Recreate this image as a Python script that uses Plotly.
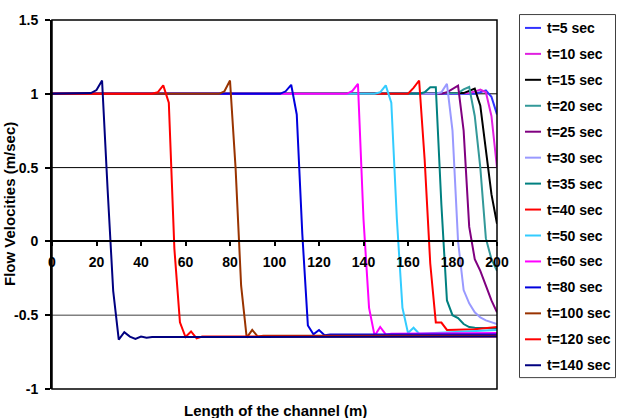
import plotly.graph_objects as go

# ---------------- data ----------------
series_names = ["t=5 sec", "t=10 sec", "t=15 sec", "t=20 sec", "t=25 sec", "t=30 sec",
                "t=35 sec", "t=40 sec", "t=50 sec", "t=60 sec", "t=80 sec",
                "t=100 sec", "t=120 sec", "t=140 sec"]

x_t5 = [0, 190, 192.5, 195, 197.5, 200]
v_t5 = [1.0, 1.0, 1.01, 1.023, 0.98, 0.86]

x_t10 = [0, 185, 187.5, 190, 192.5, 195, 197.5, 200]
v_t10 = [1.0, 1.0, 1.005, 1.015, 1.028, 1.01, 0.85, 0.5]

x_t15 = [0, 182.5, 185, 187.5, 190, 192.5, 195, 197.5, 200]
v_t15 = [1.0, 1.0, 1.005, 1.02, 1.035, 0.92, 0.62, 0.32, 0.12]

x_t20 = [0, 180, 182.5, 185, 187.5, 190, 192.5, 195, 197.5, 200]
v_t20 = [1.0, 1.0, 1.005, 1.03, 1.046, 0.85, 0.5, 0.02, -0.12, -0.2]

x_t25 = [0, 175, 177.5, 180, 182.5, 185, 187.5, 190, 192.5, 195, 197.5, 200]
v_t25 = [1.0, 1.0, 1.01, 1.03, 1.055, 0.75, 0.1, -0.12, -0.2, -0.3, -0.4, -0.48]

x_t30 = [0, 172.5, 175, 177.5, 180, 182.5, 185, 187.5, 190, 192.5, 195, 197.5, 200]
v_t30 = [1.0, 1.0, 1.01, 1.068, 0.75, 0.0, -0.33, -0.42, -0.48, -0.515, -0.535, -0.55, -0.56]

x_t35 = [0, 165, 167.5, 170, 172.5, 175, 177.5, 180, 182.5, 185, 187.5, 190, 200]
v_t35 = [1.0, 1.0, 1.01, 1.045, 1.045, 0.25, -0.4, -0.5, -0.52, -0.56, -0.58, -0.585, -0.59]

x_t40 = [0, 160, 162.5, 165, 167.5, 170, 172.5, 175, 177.5, 180, 190, 200]
v_t40 = [1.0, 1.0, 1.04, 1.09, 0.55, -0.15, -0.55, -0.55, -0.6, -0.6, -0.595, -0.58]

x_t50 = [0, 145, 147.5, 150, 152.5, 155, 157.5, 160, 162.5, 165, 200]
v_t50 = [1.0, 1.0, 1.01, 1.057, 0.94, 0.15, -0.45, -0.62, -0.585, -0.625, -0.6]

x_t60 = [0, 132.5, 135, 137.5, 140, 142.5, 145, 147.5, 150, 152.5, 200]
v_t60 = [1.0, 1.0, 1.02, 1.068, 0.15, -0.45, -0.64, -0.58, -0.63, -0.625, -0.62]

x_t80 = [0, 102.5, 105, 107.5, 110, 112.5, 115, 117.5, 120, 122.5, 125, 200]
v_t80 = [1.0, 1.0, 1.017, 1.061, 0.86, 0.05, -0.57, -0.63, -0.6, -0.635, -0.63, -0.63]

x_t100 = [0, 75, 77.5, 80, 82.5, 85, 87.5, 90, 92.5, 95, 200]
v_t100 = [1.0, 1.0, 1.017, 1.09, 0.5, -0.3, -0.652, -0.6, -0.645, -0.64, -0.64]

x_t120 = [0, 45, 47.5, 50, 52.5, 55, 57.5, 60, 62.5, 65, 67.5, 200]
v_t120 = [1.0, 1.0, 1.01, 1.057, 0.94, -0.05, -0.548, -0.648, -0.61, -0.657, -0.645, -0.645]

x_t140 = [0, 15, 17.5, 20, 22.5, 25, 27.5, 30, 32.5, 35, 37.5, 40, 42.5, 45, 200]
v_t140 = [1.0, 1.0, 1.005, 1.025, 1.09, 0.35, -0.335, -0.665, -0.615, -0.645, -0.66, -0.645, -0.652, -0.648, -0.645]

y_tick_vals = [-1, -0.5, 0, 0.5, 1, 1.5]
y_tick_text = ["-1", "-0.5", "0", "0.5", "1", "1.5"]
x_tick_vals = [0, 20, 40, 60, 80, 100, 120, 140, 160, 180, 200]

# ---------------- styles ----------------
colors = ["#3333FF", "#E020E0", "#000000", "#339999", "#800080", "#9999FF",
          "#008080", "#FF0000", "#33CCFF", "#FF00FF", "#0000DD",
          "#993300", "#FF0000", "#000080"]

xs = [x_t5, x_t10, x_t15, x_t20, x_t25, x_t30, x_t35, x_t40, x_t50, x_t60, x_t80, x_t100, x_t120, x_t140]
vs = [v_t5, v_t10, v_t15, v_t20, v_t25, v_t30, v_t35, v_t40, v_t50, v_t60, v_t80, v_t100, v_t120, v_t140]

W, H = 617, 418
L, R, T, B = 52, 120, 16, 29
PW, PH = W - L - R, H - T - B


def px(xp):
    return (xp - L) / PW


def py(yp):
    return (H - B - yp) / PH


FONT = "Liberation Sans, Arial, sans-serif"

fig = go.Figure()
for name, xv, yv, c in zip(series_names, xs, vs, colors):
    fig.add_trace(go.Scatter(x=xv, y=yv, mode="lines", name=name,
                             line=dict(color=c, width=2), showlegend=False))

shapes = []
# gridlines
shapes.append(dict(type="line", xref="x domain", yref="y", x0=0, x1=1, y0=1, y1=1,
                   line=dict(color="black", width=1), layer="below"))
shapes.append(dict(type="line", xref="x domain", yref="y", x0=0, x1=1, y0=0.5, y1=0.5,
                   line=dict(color="black", width=1), layer="below"))
shapes.append(dict(type="line", xref="x domain", yref="y", x0=0, x1=1, y0=-0.5, y1=-0.5,
                   line=dict(color="#808080", width=1.5), layer="below"))
# plot border
shapes.append(dict(type="rect", xref="x domain", yref="y domain", x0=0, x1=1, y0=0, y1=1,
                   line=dict(color="black", width=1.5), layer="above"))

# custom legend
box_l, box_r, box_t, box_b = 519.5, 615.5, 10.5, 377.5
shapes.append(dict(type="rect", xref="paper", yref="paper",
                   x0=px(box_l), x1=px(box_r), y0=py(box_b), y1=py(box_t),
                   line=dict(color="#404040", width=1), fillcolor="white", layer="above"))
annotations = []
for i, (name, c) in enumerate(zip(series_names, colors)):
    yc = 24 + 26.23 * i
    shapes.append(dict(type="line", xref="paper", yref="paper",
                       x0=px(525), x1=px(541), y0=py(yc), y1=py(yc),
                       line=dict(color=c, width=2), layer="above"))
    annotations.append(dict(text=name, xref="paper", yref="paper", x=px(545), y=py(yc),
                            xanchor="left", yanchor="middle", showarrow=False,
                            font=dict(family=FONT, size=14, color="black", weight="bold")))

# axis titles
annotations.append(dict(text="Length of the channel (m)", xref="paper", yref="paper",
                        x=px(275), y=py(400), xanchor="center", yanchor="top", showarrow=False,
                        font=dict(family=FONT, size=15, color="black", weight="bold")))
annotations.append(dict(text="Flow Velocities (m/sec)", xref="paper", yref="paper",
                        x=px(9), y=py(202), xanchor="center", yanchor="middle", showarrow=False,
                        textangle=-90,
                        font=dict(family=FONT, size=15, color="black", weight="bold")))

fig.update_layout(
    width=W, height=H,
    margin=dict(l=L, r=R, t=T, b=B, pad=0),
    paper_bgcolor="white", plot_bgcolor="white",
    showlegend=False,
    shapes=shapes, annotations=annotations,
    xaxis=dict(range=[0, 200], tickvals=x_tick_vals, showgrid=False, zeroline=False,
               showline=True, linecolor="black", linewidth=2,
               anchor="free", position=0.4,
               ticks="outside", ticklen=4, tickwidth=1.5, tickcolor="black",
               ticklabelstandoff=4,
               tickfont=dict(family=FONT, size=14, color="black", weight="bold")),
    yaxis=dict(range=[-1, 1.5], tickvals=y_tick_vals, ticktext=y_tick_text,
               showgrid=False, zeroline=False,
               showline=True, linecolor="black", linewidth=2,
               ticks="outside", ticklen=5, tickwidth=1.5, tickcolor="black",
               ticklabelstandoff=4,
               tickfont=dict(family=FONT, size=14, color="black", weight="bold")),
)

fig.write_html("out.html")
